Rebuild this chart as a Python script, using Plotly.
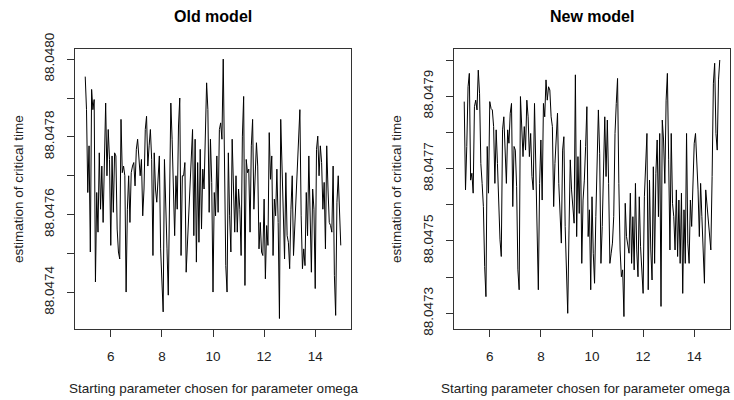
import numpy as np
import plotly.graph_objects as go

# Starting parameter grid (omega from 5 to 15)
omega = np.linspace(5, 15, 201)

old_model = [
    88.047955, 88.047870, 88.047657, 88.047777, 88.047504, 88.047922, 88.047870, 88.047896, 88.047427, 88.047657,
    88.047555, 88.047759, 88.047614, 88.047725, 88.047580, 88.047794, 88.047887, 88.047700, 88.047819, 88.047742,
    88.047521, 88.047751, 88.047606, 88.047759, 88.047751, 88.047563, 88.047504, 88.047486, 88.047845, 88.047708,
    88.047725, 88.047700, 88.047401, 88.047614, 88.047700, 88.047580, 88.047708, 88.047725, 88.047734, 88.047674,
    88.047768, 88.047794, 88.047734, 88.047700, 88.047742, 88.047597, 88.047666, 88.047819, 88.047853, 88.047725,
    88.047777, 88.047819, 88.047742, 88.047495, 88.047759, 88.047666, 88.047632, 88.047683, 88.047751, 88.047512,
    88.047401, 88.047350,
    88.047742, 88.047580, 88.047512, 88.047393,
    88.047717, 88.047887, 88.047794, 88.047640, 88.047546, 88.047700, 88.047614, 88.047828, 88.047900, 88.047495,
    88.047700, 88.047700, 88.047734, 88.047452, 88.047529, 88.047597, 88.047691, 88.047759, 88.047819, 88.047546,
    88.047794, 88.047478, 88.047734, 88.047529, 88.047768, 88.047563, 88.047717, 88.047666, 88.047777, 88.047939,
    88.047870, 88.047606, 88.047794, 88.047683, 88.047401, 88.047657, 88.047597, 88.047751, 88.047606, 88.047819,
    88.047836, 88.047794, 88.048000, 88.047751, 88.047469, 88.047401, 88.047759, 88.047597, 88.047504, 88.047794,
    88.047683, 88.047555, 88.047700, 88.047555, 88.047666, 88.047614, 88.047495, 88.047802, 88.047904, 88.047418,
    88.047742, 88.047708, 88.047717, 88.047555, 88.047777, 88.047845, 88.047614, 88.047700,
    88.047785, 88.047725, 88.047512, 88.047580, 88.047504, 88.047495, 88.047640, 88.047435, 88.047572, 88.047521,
    88.047811, 88.047691, 88.047751, 88.047495, 88.047640, 88.047597, 88.047717, 88.047580, 88.047333, 88.047845,
    88.047725, 88.047649, 88.047486, 88.047708, 88.047546, 88.047529, 88.047461, 88.047614, 88.047700, 88.047495,
    88.047572, 88.047674, 88.047759, 88.047811, 88.047870, 88.047597, 88.047461, 88.047512, 88.047469, 88.047657,
    88.047546, 88.047751, 88.047597, 88.047452, 88.047666, 88.047614, 88.047410, 88.047768, 88.047802, 88.047700,
    88.047777, 88.047734, 88.047614, 88.047683, 88.047512, 88.047777, 88.047666, 88.047580, 88.047572, 88.047555,
    88.047725, 88.047444, 88.047341, 88.047632, 88.047700, 88.047614, 88.047521,
]

new_model = [
    88.047885, 88.047641, 88.047761, 88.047926, 88.047963, 88.047668, 88.047687, 88.047632, 88.047871, 88.047889,
    88.047862, 88.047972, 88.047908, 88.047714, 88.047659, 88.047595, 88.047429, 88.047346, 88.047761, 88.047632,
    88.047885, 88.047866, 88.047862, 88.047816, 88.047659, 88.047807, 88.047714, 88.047595, 88.047503, 88.047457,
    88.047807, 88.047843, 88.047724, 88.047659, 88.047807, 88.047770, 88.047853, 88.047880, 88.047595, 88.047761,
    88.047751, 88.047650, 88.047420, 88.047365, 88.047899, 88.047788, 88.047733, 88.047816, 88.047751, 88.047889,
    88.047843, 88.047733, 88.047797, 88.047678, 88.047641, 88.047880, 88.047714, 88.047512, 88.047365, 88.047659,
    88.047779, 88.047613, 88.047880, 88.047843, 88.047945, 88.047889,
    88.047926, 88.047917, 88.047843, 88.047816, 88.047595, 88.047714, 88.047788, 88.047853, 88.047659, 88.047549,
    88.047494, 88.047751, 88.047788, 88.047540, 88.047383, 88.047300, 88.047530, 88.047724, 88.047641, 88.047595,
    88.047549, 88.047959, 88.047512, 88.047733, 88.047576, 88.047779, 88.047438, 88.047613, 88.047668, 88.047761,
    88.047871, 88.047512, 88.047586, 88.047365, 88.047622, 88.047466, 88.047383, 88.047567, 88.047751, 88.047862,
    88.047742, 88.047438, 88.047540, 88.047751, 88.047843, 88.047678, 88.047834, 88.047659, 88.047438, 88.047466,
    88.047494, 88.047567, 88.047797, 88.047880, 88.047949, 88.047659, 88.047475, 88.047401, 88.047420, 88.047291,
    88.047604, 88.047512, 88.047484, 88.047466, 88.047632, 88.047438, 88.047567,
    88.047420, 88.047659, 88.047475, 88.047401, 88.047622, 88.047484, 88.047429, 88.047355, 88.047622, 88.047733,
    88.047797, 88.047365, 88.047668, 88.047475, 88.047392, 88.047705, 88.047438, 88.047687, 88.047779, 88.047567,
    88.047797, 88.047319, 88.047834, 88.047779, 88.047659, 88.047889, 88.047963, 88.047724, 88.047475, 88.047797,
    88.047604, 88.047567, 88.047475, 88.047641, 88.047457, 88.047613, 88.047438, 88.047632, 88.047355, 88.047586,
    88.047438, 88.047797, 88.047494, 88.047438, 88.047613, 88.047540, 88.047632, 88.047770, 88.047797, 88.047733,
    88.047641, 88.047512, 88.047659, 88.047567, 88.047438, 88.047383, 88.047641, 88.047604, 88.047549, 88.047521,
    88.047475, 88.047678, 88.047936, 88.047991, 88.047797, 88.047751, 88.047945, 88.048000,
]

x_ticks = [6, 8, 10, 12, 14]
old_y_ticks = [88.0474, 88.0475, 88.0476, 88.0477, 88.0478, 88.0479, 88.0480]
old_y_labels = ["88.0474", "", "88.0476", "", "88.0478", "", "88.0480"]
new_y_ticks = [88.0473, 88.0474, 88.0475, 88.0476, 88.0477, 88.0478, 88.0479, 88.0480]
new_y_labels = ["88.0473", "", "88.0475", "", "88.0477", "", "88.0479", ""]

titles = ["Old model", "New model"]
x_label = "Starting parameter chosen for parameter omega"
y_label = "estimation of critical time"

W, H = 734, 400
FONT = "Liberation Sans, Arial, sans-serif"

fig = go.Figure()
fig.add_trace(go.Scatter(x=omega, y=old_model, mode="lines",
                         line=dict(color="black", width=1), xaxis="x", yaxis="y"))
fig.add_trace(go.Scatter(x=omega, y=new_model, mode="lines",
                         line=dict(color="black", width=1), xaxis="x2", yaxis="y2"))

common_axis = dict(showline=True, linecolor="#333", linewidth=1, mirror=True,
                   ticks="outside", ticklen=7, tickwidth=1, tickcolor="#333",
                   showgrid=False, zeroline=False, automargin=False,
                   tickfont=dict(family=FONT, size=13.5, color="#222"))

left_dom = [75 / W, 351 / W]
right_dom = [454 / W, 730 / W]
y_dom = [1 - 329 / H, 1 - 49 / H]

fig.update_layout(
    template="none",
    width=W, height=H,
    margin=dict(l=0, r=0, t=0, b=0, autoexpand=False),
    paper_bgcolor="white", plot_bgcolor="white",
    showlegend=False,
    xaxis=dict(domain=left_dom, anchor="y", range=[4.6, 15.4], tickvals=x_ticks,
               ticklabelstandoff=8, **common_axis),
    yaxis=dict(domain=y_dom, anchor="x", range=[88.047306, 88.048026],
               tickvals=old_y_ticks, ticktext=old_y_labels, tickangle=-90,
               ticklabelstandoff=8, **common_axis),
    xaxis2=dict(domain=right_dom, anchor="y2", range=[4.6, 15.4], tickvals=x_ticks,
                ticklabelstandoff=8, **common_axis),
    yaxis2=dict(domain=y_dom, anchor="x2", range=[88.0472566, 88.0480304],
                tickvals=new_y_ticks, ticktext=new_y_labels, tickangle=-90,
                ticklabelstandoff=8, **common_axis),
)

centers = [(75 + 351) / 2 / W, (454 + 730) / 2 / W]
ylab_x = [19 / W, 397 / W]
for i in range(2):
    fig.add_annotation(text="<b>" + titles[i] + "</b>", x=centers[i], y=1 - 17 / H,
                       xref="paper", yref="paper", showarrow=False,
                       xanchor="center", yanchor="middle",
                       font=dict(family=FONT, size=16, color="black"))
    fig.add_annotation(text=y_label, x=ylab_x[i], y=1 - 189 / H, textangle=-90,
                       xref="paper", yref="paper", showarrow=False,
                       xanchor="center", yanchor="middle",
                       font=dict(family=FONT, size=13.5, color="#222"))

# x-axis labels (right one kept inside the page edge)
fig.add_annotation(text=x_label, x=centers[0], y=1 - 388 / H,
                   xref="paper", yref="paper", showarrow=False,
                   xanchor="center", yanchor="middle",
                   font=dict(family=FONT, size=13.5, color="#222"))
fig.add_annotation(text=x_label, x=732 / W, y=1 - 388 / H,
                   xref="paper", yref="paper", showarrow=False,
                   xanchor="right", yanchor="middle",
                   font=dict(family=FONT, size=13.5, color="#222"))

fig.write_html("out.html",
               config={"displayModeBar": False},
               post_script="document.body.style.margin='0';document.body.style.overflow='hidden';")
